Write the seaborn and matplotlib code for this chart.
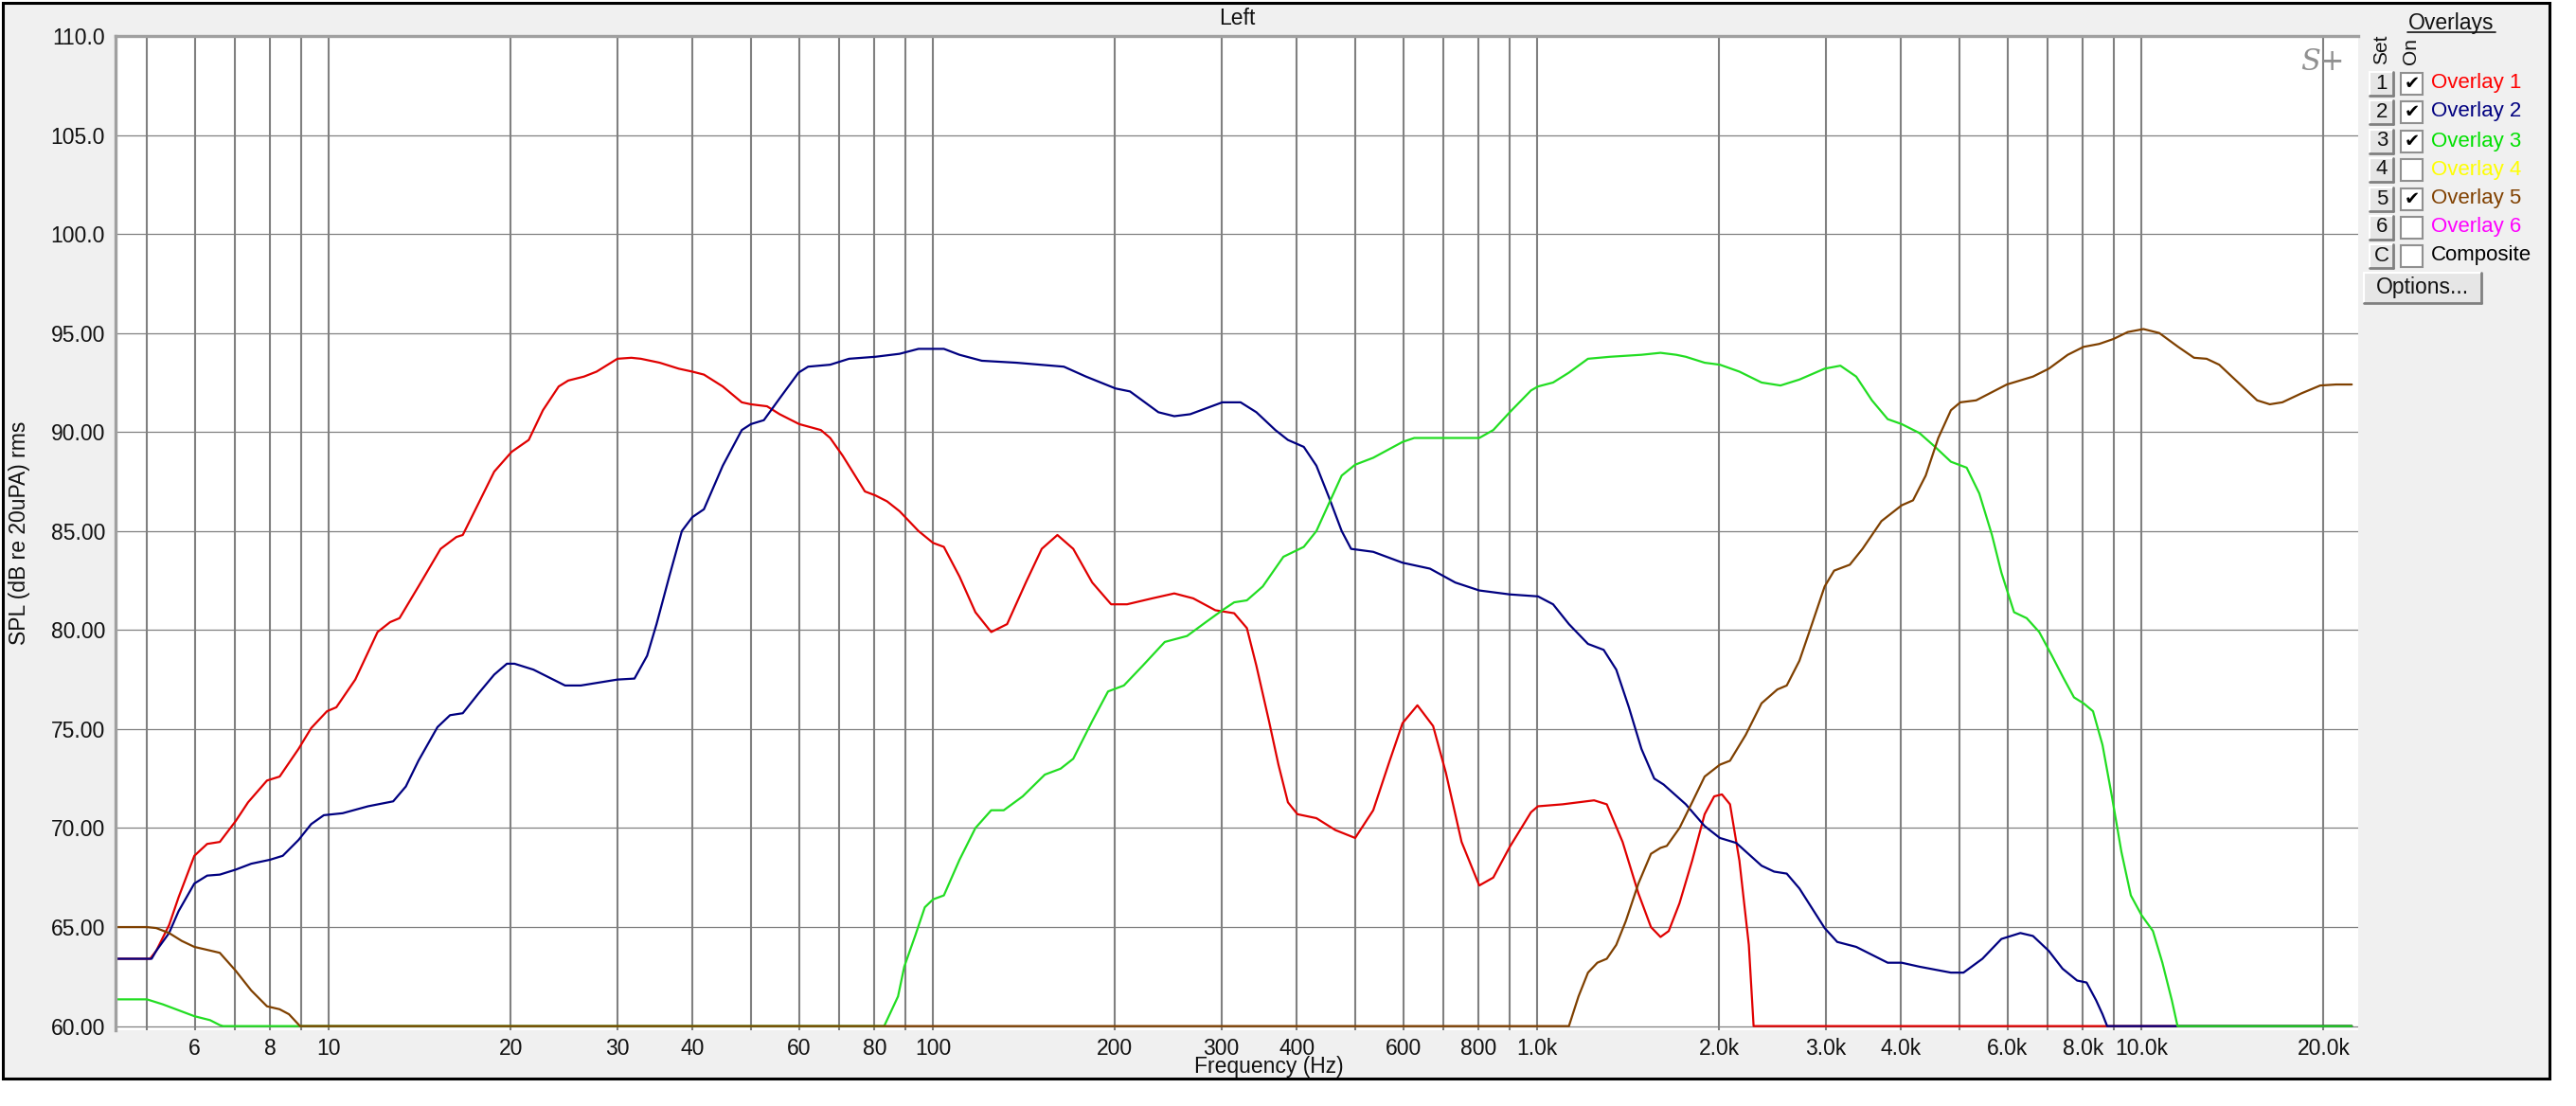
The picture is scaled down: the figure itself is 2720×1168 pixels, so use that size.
import numpy as np
import pandas as pd
import matplotlib
matplotlib.use("Agg")
import matplotlib.pyplot as plt
import seaborn as sns
from matplotlib.patches import Rectangle
from matplotlib.lines import Line2D
from matplotlib.ticker import FixedLocator, FixedFormatter, NullLocator

# ---------------- data ----------------
overlay_names = ["Overlay 1", "Overlay 2", "Overlay 3", "Overlay 5"]
line_colors = ["#E00000", "#000080", "#22DD22", "#7F4000"]

red_freq = [4.44, 5.06, 5.18, 5.44, 5.64, 5.99, 6.29, 6.60, 7.01, 7.35, 7.90, 8.29, 8.91, 9.35, 9.93,
            10.29, 11.06, 12.04, 12.63, 13.09, 14.07, 15.31, 16.26, 16.66, 17.69, 18.78, 20.07, 21.42,
            22.61, 24.01, 24.90, 26.44, 27.74, 30.03, 31.67, 32.84, 35.29, 37.93, 39.95, 41.76, 44.87,
            48.24, 49.95, 53.11, 55.73, 60.04, 65.21, 67.56, 70.87, 77.12, 80.25, 83.91, 88.02, 94.6,
            100, 104.2, 110.6, 117.5, 124.8, 132.6, 142.4, 151.3, 160.6, 170.6, 183.4, 197.1, 209.4,
            230.5, 250.7, 269.5, 293.2, 315, 330.6, 342.8, 359.7, 372.9, 386.6, 400.9, 430.9, 463.1,
            499.5, 535.1, 568.3, 598.4, 633.2, 672.3, 705.7, 749.3, 801.5, 845.5, 900.3, 976.3, 1002.5,
            1101, 1241.6, 1303, 1384, 1470, 1542, 1599, 1650, 1719, 1804, 1892, 1962, 2021, 2084, 2160,
            2239, 2280, 22280]
red_spl = [63.4, 63.4, 63.8, 65.1, 66.5, 68.6, 69.2, 69.3, 70.35, 71.3, 72.4, 72.6, 74.0, 75.05, 75.9,
           76.1, 77.5, 79.9, 80.4, 80.6, 82.2, 84.1, 84.7, 84.8, 86.4, 88.0, 89.0, 89.6,
           91.1, 92.3, 92.6, 92.8, 93.05, 93.7, 93.75, 93.7, 93.5, 93.2, 93.05, 92.9, 92.3,
           91.5, 91.4, 91.3, 90.9, 90.4, 90.1, 89.7, 88.8, 87.0, 86.8, 86.5, 86.0, 85.0,
           84.4, 84.2, 82.7, 80.9, 79.9, 80.3, 82.4, 84.1, 84.8, 84.1, 82.4, 81.3, 81.3,
           81.6, 81.85, 81.6, 81.0, 80.85, 80.1, 78.2, 75.4, 73.2, 71.3, 70.7, 70.5, 69.9,
           69.5, 70.9, 73.3, 75.3, 76.2, 75.15, 72.8, 69.3, 67.1, 67.5, 69.05, 70.8, 71.1,
           71.2, 71.4, 71.2, 69.3, 66.7, 65.0, 64.5, 64.8, 66.2, 68.35, 70.7, 71.6, 71.7, 71.2, 68.35,
           64.1, 60.0, 60.0]

blue_freq = [4.44, 5.09, 5.18, 5.44, 5.64, 5.99, 6.29, 6.60, 7.01, 7.44, 7.99, 8.39, 8.91, 9.35, 9.81,
             10.54, 11.61, 12.78, 13.41, 14.07, 15.13, 15.87, 16.66, 17.69, 18.78, 19.71, 20.29, 21.81,
             24.6, 26.12, 30.03, 32.05, 33.63, 34.86, 36.59, 38.39, 39.95, 41.76, 44.87, 48.24, 49.95,
             52.48, 55.73, 59.89, 62.11, 67.56, 72.6, 80.25, 88.02, 94.6, 104.2, 110.6, 120.4, 137.4,
             164.6, 179.1, 200.4, 211.8, 236, 250.7, 266.4, 301.1, 322.8, 342.8, 368.5, 386.6, 410.7,
             430.9, 452.1, 474.5, 491.8, 535.1, 598.4, 664.4, 731.5, 801.5, 900.3, 1002.5, 1062, 1128,
             1213, 1287.6, 1351, 1417.5, 1487, 1561.4, 1618, 1761, 1892, 2005, 2134, 2350, 2466, 2587,
             2715, 2989, 3136, 3371, 3801, 4009, 4289, 4836, 5073, 5453, 5862, 6302, 6612, 7021, 7400,
             7823, 8110, 8411, 8617, 8772, 22280]
blue_spl = [63.4, 63.4, 63.8, 64.7, 65.8, 67.2, 67.6, 67.65, 67.9, 68.2, 68.4, 68.6, 69.4, 70.2, 70.65,
            70.75, 71.1, 71.35, 72.1, 73.4, 75.1, 75.7, 75.8, 76.8, 77.75, 78.3, 78.3, 78.0,
            77.2, 77.2, 77.5, 77.55, 78.7, 80.3, 82.7, 85.0, 85.7, 86.1, 88.3, 90.1, 90.4,
            90.6, 91.7, 93.0, 93.3, 93.4, 93.7, 93.8, 93.95, 94.2, 94.2, 93.9, 93.6, 93.5,
            93.3, 92.8, 92.2, 92.05, 91.0, 90.8, 90.9, 91.5, 91.5, 91.0, 90.1, 89.6, 89.25,
            88.3, 86.7, 85.0, 84.1, 83.95, 83.4, 83.1, 82.4, 82.0, 81.8, 81.7, 81.3, 80.3,
            79.3, 79.0, 78.0, 76.1, 74.0, 72.5, 72.2, 71.2, 70.1, 69.5, 69.25, 68.1, 67.8, 67.7,
            66.95, 64.95, 64.25, 64.0, 63.2, 63.2, 63.0, 62.7, 62.7, 63.4, 64.4, 64.7, 64.55, 63.8, 62.9,
            62.3, 62.2, 61.3, 60.6, 60.0, 60.0]

green_freq = [4.44, 5.0, 5.31, 5.64, 5.99, 6.36, 6.60, 6.68, 83.0, 87.5, 89.6, 93.5, 96.9, 100, 104.2,
              110.6, 117.5, 124.8, 130.9, 140.7, 153.1, 162.6, 170.6, 183.4, 194.8, 206.9, 222.3, 241.8,
              263.2, 282.8, 301.1, 315, 330.6, 351.2, 380, 410.7, 430.9, 452.1, 474.5, 499.5, 535.1,
              598.4, 625.6, 698.9, 801.5, 845.5, 900.3, 976.3, 1002.5, 1062, 1128, 1213, 1319, 1487,
              1599, 1698, 1761, 1892, 2005, 2160, 2350, 2526, 2715, 2989, 3174, 3371, 3579, 3801, 4009,
              4289, 4553, 4836, 5135, 5388, 5655, 5862, 6152, 6455, 6771, 7108, 7420, 7730, 8016, 8311,
              8617, 8931, 9261, 9600, 10000, 10443, 10826, 11224, 11470, 22280]
green_spl = [61.35, 61.35, 61.1, 60.8, 60.5, 60.3, 60.05, 60.0, 60.0, 61.5, 63.0, 64.6, 66.0, 66.4, 66.6,
             68.4, 70.0, 70.9, 70.9, 71.6, 72.7, 73.0, 73.5, 75.4, 76.9, 77.2, 78.2, 79.4,
             79.7, 80.4, 81.0, 81.4, 81.5, 82.2, 83.7, 84.2, 85.0, 86.4, 87.8, 88.35, 88.7,
             89.5, 89.7, 89.7, 89.7, 90.1, 91.0, 92.1, 92.3, 92.5, 93.0, 93.7, 93.8, 93.9,
             94.0, 93.9, 93.8, 93.5, 93.4, 93.05, 92.5, 92.35, 92.65, 93.2, 93.35, 92.8, 91.6, 90.65, 90.4,
             89.95, 89.25, 88.5, 88.2, 86.9, 84.8, 82.9, 80.9, 80.6, 79.9, 78.7, 77.6, 76.6, 76.3, 75.9,
             74.2, 71.6, 68.8, 66.6, 65.6, 64.8, 63.2, 61.3, 60.0, 60.0]

brown_freq = [4.44, 5.0, 5.18, 5.44, 5.71, 5.99, 6.29, 6.60, 7.01, 7.44, 7.90, 8.29, 8.59, 8.96, 1128,
              1170, 1213, 1257, 1303, 1351, 1401, 1470, 1542, 1599, 1638, 1719, 1804, 1892, 2005, 2084,
              2212, 2350, 2496, 2587, 2715, 2848, 2989, 3099, 3290, 3453, 3711, 4009, 4186, 4393, 4609,
              4836, 5013, 5324, 5984, 6612, 7024, 7548, 8016, 8511, 8987, 9487, 10072, 10698, 11498,
              12214, 12813, 13443, 14453, 15534, 16302, 17100, 18381, 19757, 20983, 22281]
brown_spl = [65.0, 65.0, 64.95, 64.7, 64.3, 64.0, 63.85, 63.7, 62.8, 61.8, 61.0, 60.85, 60.6, 60.0, 60.0,
             61.5, 62.7, 63.2, 63.4, 64.1, 65.3, 67.2, 68.7, 69.0, 69.1, 70.0, 71.3, 72.6, 73.2, 73.4,
             74.7, 76.3, 77.0, 77.2, 78.45, 80.3, 82.2, 83.0, 83.3, 84.1, 85.5, 86.3, 86.55, 87.8, 89.7,
             91.1, 91.5, 91.6, 92.4, 92.8, 93.2, 93.9, 94.3, 94.45, 94.7, 95.05, 95.2, 95.0, 94.3,
             93.75, 93.7, 93.4, 92.5, 91.6, 91.4, 91.5, 91.95, 92.35, 92.4, 92.4]

grid_freqs = [5, 6, 7, 8, 9, 10, 20, 30, 40, 50, 60, 70, 80, 90, 100, 200, 300, 400, 500, 600, 700,
              800, 900, 1000, 2000, 3000, 4000, 5000, 6000, 7000, 8000, 9000, 10000, 20000]
x_tick_labels = ["", "6", "", "8", "", "10", "20", "30", "40", "", "60", "", "80", "", "100", "200",
                 "300", "400", "", "600", "", "800", "", "1.0k", "2.0k", "3.0k", "4.0k", "", "6.0k", "",
                 "8.0k", "", "10.0k", "20.0k"]
y_ticks = [60, 65, 70, 75, 80, 85, 90, 95, 100, 105, 110]
y_tick_labels = ["60.00", "65.00", "70.00", "75.00", "80.00", "85.00", "90.00", "95.00",
                 "100.0", "105.0", "110.0"]

legend_sets = ["1", "2", "3", "4", "5", "6", "C"]
legend_labels = ["Overlay 1", "Overlay 2", "Overlay 3", "Overlay 4", "Overlay 5", "Overlay 6", "Composite"]
legend_colors = ["#FF0000", "#000080", "#00E000", "#FFFF00", "#804000", "#FF00FF", "#000000"]
legend_checked = [True, True, True, False, True, False, False]

# ---------------- figure ----------------
W, H, DPI = 2720, 1168, 100
sns.set_style("white")
plt.rcParams["font.family"] = ["Liberation Sans", "DejaVu Sans"]

fig = plt.figure(figsize=(W / DPI, H / DPI), dpi=DPI, facecolor="white")


def fx(x):
    return x / W


def fy(y):
    return 1 - y / H


bg = Rectangle((fx(3), fy(1139)), fx(2692) - fx(3), fy(3) - fy(1139), transform=fig.transFigure,
               facecolor="#F0F0F0", edgecolor="black", linewidth=2.2, zorder=-10)
fig.add_artist(bg)

ax = fig.add_axes([fx(122), fy(1088), fx(2490) - fx(122), fy(38) - fy(1088)])
ax.set_facecolor("white")

frames = []
for name, fr, sp in zip(overlay_names, [red_freq, blue_freq, green_freq, brown_freq],
                        [red_spl, blue_spl, green_spl, brown_spl]):
    frames.append(pd.DataFrame({"Frequency": fr, "SPL": sp, "Overlay": name}))
df = pd.concat(frames, ignore_index=True)

sns.lineplot(data=df, x="Frequency", y="SPL", hue="Overlay", hue_order=overlay_names,
             palette=dict(zip(overlay_names, line_colors)), estimator=None, sort=False,
             linewidth=1.6, legend=False, ax=ax)

ax.set_xscale("log")
ax.set_xlim(4.436, 22830)
ax.set_ylim(59.79, 110)
ax.xaxis.set_major_locator(FixedLocator(grid_freqs))
ax.xaxis.set_major_formatter(FixedFormatter(x_tick_labels))
ax.xaxis.set_minor_locator(NullLocator())
ax.yaxis.set_major_locator(FixedLocator(y_ticks))
ax.yaxis.set_major_formatter(FixedFormatter(y_tick_labels))
ax.yaxis.set_minor_locator(NullLocator())
ax.set_axisbelow(True)
ax.grid(axis="x", color="#808080", linewidth=1.5)
ax.grid(axis="y", color="#808080", linewidth=0.9)
ax.set_xlabel("")
ax.set_ylabel("")
ax.tick_params(axis="x", direction="out", length=4, width=1.4, color="black", labelsize=16.5,
               pad=2, labelcolor="#111111")
ax.tick_params(axis="y", direction="out", length=4, width=1.4, color="black", labelsize=16.5,
               pad=4, labelcolor="#111111")
for s in ["right", "bottom"]:
    ax.spines[s].set_visible(False)
for s in ["left", "top"]:
    ax.spines[s].set_color("#A0A0A0")
    ax.spines[s].set_linewidth(2.4)

# texts
fig.text(fx(1306), fy(19), "Left", ha="center", va="center", fontsize=16.5, color="#111111")
fig.text(fx(1340), fy(1127), "Frequency (Hz)", ha="center", va="center", fontsize=16.5, color="#111111")
fig.text(fx(21), fy(563), "SPL (dB re 20uPA) rms", rotation=90, ha="center", va="center",
         fontsize=16.5, color="#111111")
fig.text(fx(2452), fy(66), "S+", ha="center", va="center", fontsize=22, color="#909090",
         family="DejaVu Serif", style="italic")

# ---------------- legend panel ----------------
def button(x0, y0, x1, y1):
    fig.add_artist(Rectangle((fx(x0), fy(y1)), fx(x1) - fx(x0), fy(y0) - fy(y1),
                             transform=fig.transFigure, facecolor="#E6E6E6", edgecolor="none", zorder=5))
    fig.add_artist(Line2D([fx(x0), fx(x1)], [fy(y0), fy(y0)], transform=fig.transFigure,
                          color="white", lw=1.5, zorder=6))
    fig.add_artist(Line2D([fx(x0), fx(x0)], [fy(y0), fy(y1)], transform=fig.transFigure,
                          color="white", lw=1.5, zorder=6))
    fig.add_artist(Line2D([fx(x0), fx(x1)], [fy(y1), fy(y1)], transform=fig.transFigure,
                          color="#808080", lw=2.0, zorder=6))
    fig.add_artist(Line2D([fx(x1), fx(x1)], [fy(y0), fy(y1)], transform=fig.transFigure,
                          color="#808080", lw=2.0, zorder=6))


fig.text(fx(2588), fy(24), "Overlays", ha="center", va="center", fontsize=16.5, color="#111111")
fig.add_artist(Line2D([fx(2542), fx(2635)], [fy(34), fy(34)], transform=fig.transFigure,
                      color="#111111", lw=1.2))
fig.text(fx(2515), fy(68), "Set", rotation=90, ha="center", va="bottom", fontsize=15, color="#111111")
fig.text(fx(2546), fy(68), "On", rotation=90, ha="center", va="bottom", fontsize=15, color="#111111")

row_y = [88, 118, 149, 179, 210, 240, 270]
for yc, sset, lab, col, chk in zip(row_y, legend_sets, legend_labels, legend_colors, legend_checked):
    button(2502, yc - 12, 2527, yc + 13)
    fig.text(fx(2515), fy(yc), sset, ha="center", va="center", fontsize=16, color="#111111", zorder=7)
    fig.add_artist(Rectangle((fx(2535), fy(yc + 12)), fx(2558) - fx(2535), fy(yc - 11) - fy(yc + 12),
                             transform=fig.transFigure, facecolor="white", edgecolor="#909090",
                             linewidth=1.5, zorder=5))
    if chk:
        fig.text(fx(2546.5), fy(yc + 0.5), "\u2714", ha="center", va="center", fontsize=14,
                 color="black", family="DejaVu Sans", zorder=7)
    fig.text(fx(2567), fy(yc), lab, ha="left", va="center", fontsize=16, color=col)

button(2496, 288, 2620, 320)
fig.text(fx(2558), fy(304), "Options...", ha="center", va="center", fontsize=16.5, color="#111111", zorder=7)

fig.savefig("out.png", dpi=DPI, facecolor="white")
